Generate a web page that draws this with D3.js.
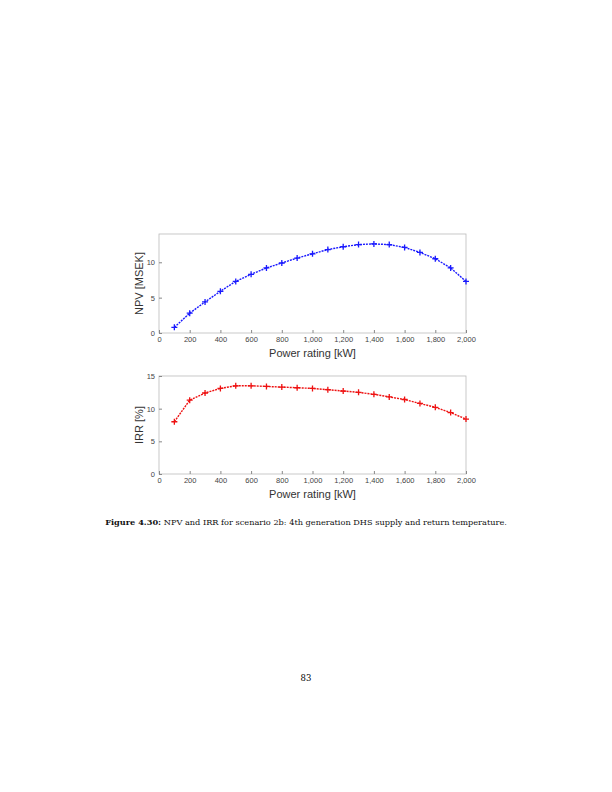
<!DOCTYPE html>
<html><head><meta charset="utf-8">
<script src="https://cdn.jsdelivr.net/npm/d3@7"></script>
<style>body{margin:0;background:#fff}</style>
</head><body>
<svg id="page" width="612" height="792"></svg>
<script>
const power = [100,200,300,400,500,600,700,800,900,1000,1100,1200,1300,1400,1500,1600,1700,1800,1900,2000];
const npv = [0.8,2.8,4.4,5.9,7.3,8.3,9.2,9.9,10.6,11.2,11.8,12.2,12.5,12.6,12.5,12.1,11.4,10.5,9.2,7.3];
const irr = [8.0,11.3,12.4,13.1,13.5,13.5,13.4,13.3,13.2,13.1,12.9,12.7,12.5,12.2,11.8,11.4,10.8,10.2,9.4,8.4];
const xTicks = [0,200,400,600,800,1000,1200,1400,1600,1800,2000];

const svg = d3.select('#page');

function panel(top, bottom, vals, yMax, color, ylabel) {
    const left = 159, right = 466;
    const x = d3.scaleLinear().domain([0, 2000]).range([left, right]);
    const y = d3.scaleLinear().domain([0, yMax]).range([bottom, top]);
    const g = svg.append('g').attr('font-family', 'Liberation Sans, Arial, sans-serif');

    g.append('rect').attr('x', left).attr('y', top).attr('width', right - left).attr('height', bottom - top)
        .attr('fill', '#fff').attr('stroke', '#bbb').attr('stroke-width', 0.8);

    const ax = g.append('g').attr('transform', `translate(0,${bottom})`)
        .call(d3.axisBottom(x).tickValues(xTicks).tickSize(-3).tickPadding(4));
    const ay = g.append('g').attr('transform', `translate(${left},0)`)
        .call(d3.axisLeft(y).ticks(3).tickValues([0,5,10,15].filter(v => v <= yMax)).tickSize(-3).tickPadding(4));
    [ax, ay].forEach(a => {
        a.select('.domain').remove();
        a.selectAll('line').attr('stroke', '#888');
        a.selectAll('text').attr('fill', '#444').attr('font-size', 7.5);
    });

    g.append('text').attr('x', (left + right) / 2).attr('y', bottom + 24).attr('text-anchor', 'middle')
        .attr('font-size', 11).attr('fill', '#333').text('Power rating [kW]');
    g.append('text').attr('transform', `translate(${left - 16},${(top + bottom) / 2}) rotate(-90)`)
        .attr('text-anchor', 'middle').attr('font-size', 11).attr('fill', '#333').text(ylabel);

    const line = d3.line().x((d, i) => x(power[i])).y(d => y(d));
    g.append('path').datum(vals).attr('d', line).attr('fill', 'none')
        .attr('stroke', color).attr('stroke-width', 1.4).attr('stroke-dasharray', '2,1');
    const s = 3;
    g.selectAll('.m').data(vals).join('path')
        .attr('d', (d, i) => { const cx = x(power[i]), cy = y(d);
            return `M${cx - s},${cy}H${cx + s}M${cx},${cy - s}V${cy + s}`; })
        .attr('stroke', color).attr('stroke-width', 1.3);
}

panel(234, 333, npv, 14, '#1a1aff', 'NPV [MSEK]');
panel(376, 474, irr, 15, '#ee1111', 'IRR [%]');

const cap = svg.append('text').attr('x', 306).attr('y', 525).attr('text-anchor', 'middle')
    .attr('font-family', 'DejaVu Serif, Liberation Serif, serif').attr('font-size', 8.2).attr('fill', '#111');
cap.append('tspan').attr('font-weight', 'bold').text('Figure 4.30:');
cap.append('tspan').text(' NPV and IRR for scenario 2b: 4th generation DHS supply and return temperature.');

svg.append('text').attr('x', 306).attr('y', 681).attr('text-anchor', 'middle')
    .attr('font-family', 'DejaVu Serif, Liberation Serif, serif').attr('font-size', 8.5).text('83');
</script>
</body></html>
